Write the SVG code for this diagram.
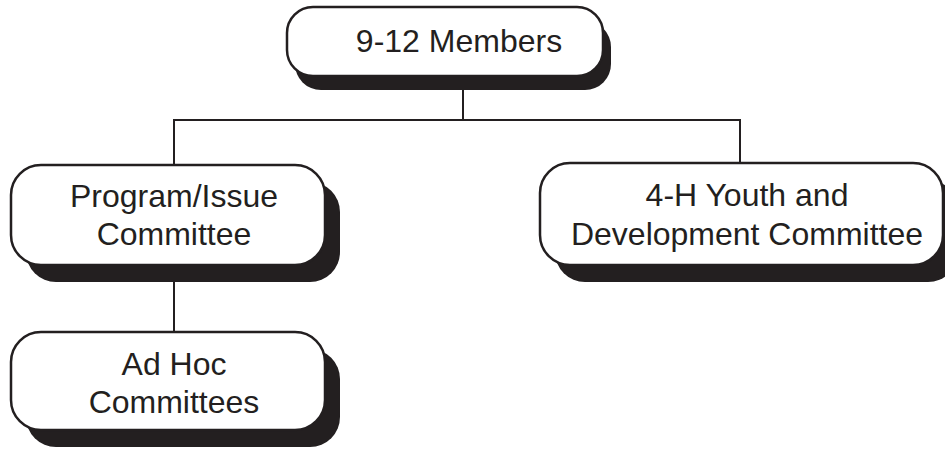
<svg xmlns="http://www.w3.org/2000/svg" width="945" height="450" viewBox="0 0 945 450">
<style>
.shadow{fill:#231f20;stroke:none}
.box{fill:#fff;stroke:#231f20;stroke-width:2.5}
.lbl{font-family:"Liberation Sans",Arial,Helvetica,sans-serif;font-size:32px;fill:#231f20;text-anchor:middle}
.conn{stroke:#231f20;stroke-width:2;fill:none}
</style>
<rect width="945" height="450" fill="#fff"/>
<g id="connectors">
<line class="conn" x1="463" y1="88" x2="463" y2="120"/>
<line class="conn" x1="173" y1="120" x2="741" y2="120"/>
<line class="conn" x1="174" y1="119" x2="174" y2="166"/>
<line class="conn" x1="740" y1="119" x2="740" y2="164"/>
<line class="conn" x1="174" y1="280" x2="174" y2="333"/>
</g>
<g id="members">
<rect class="shadow" x="295" y="21" width="316" height="69" rx="26"/>
<rect class="box" x="287" y="7" width="316" height="69" rx="26"/>
<text class="lbl" x="459" y="52">9-12 Members</text>
</g>
<g id="program">
<rect class="shadow" x="26" y="182" width="314" height="100" rx="30"/>
<rect class="box" x="11" y="165" width="314" height="100" rx="30"/>
<text class="lbl" x="174" y="207">Program/Issue</text>
<text class="lbl" x="174" y="245">Committee</text>
</g>
<g id="youth">
<rect class="shadow" x="555" y="180" width="403" height="102" rx="30"/>
<rect class="box" x="540" y="163" width="403" height="102" rx="30"/>
<text class="lbl" x="747" y="206">4-H Youth and</text>
<text class="lbl" x="747" y="245">Development Committee</text>
</g>
<g id="adhoc">
<rect class="shadow" x="26" y="349" width="314" height="98" rx="30"/>
<rect class="box" x="11" y="332" width="314" height="98" rx="30"/>
<text class="lbl" x="174" y="375">Ad Hoc</text>
<text class="lbl" x="174" y="413">Committees</text>
</g>
</svg>
